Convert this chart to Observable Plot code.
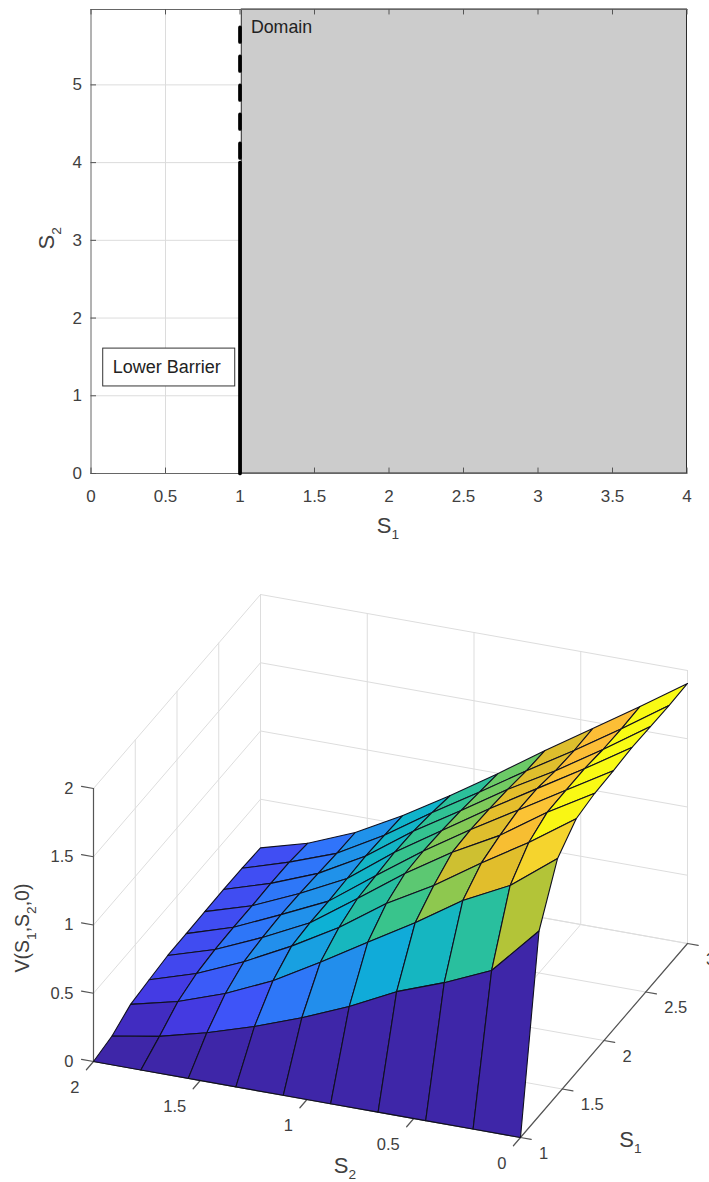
<!DOCTYPE html>
<html><head><meta charset="utf-8">
<style>html,body{margin:0;padding:0;background:#fff;overflow:hidden}svg{display:block}</style>
<script src="https://cdn.jsdelivr.net/npm/d3@7"></script>
<script src="https://cdn.jsdelivr.net/npm/@observablehq/plot@0.6"></script>
</head><body><div id="top"></div><div id="bottom"></div>
<script>
// ---------- 2D domain chart data ----------
const s1Ticks = [0,0.5,1,1.5,2,2.5,3,3.5,4];
const s2Ticks = [0,1,2,3,4,5];
const barrierS1 = 1;
const barrierSolid = [0,4];
const barrierDashed = [5.74,4];

// ---------- 3D surface data ----------
const S1Grid = [1,1.222,1.444,1.667,1.889,2.111,2.333,2.556,2.778,3];
const S2Grid = [0,0.222,0.444,0.667,0.889,1.111,1.333,1.556,1.778,2];
// V(S1,S2,0): one list per S1 grid value, ordered along S2Grid
const V0 = [0,0,0,0,0,0,0,0,0,0];
const V1 = [1.355,1.004,0.853,0.725,0.554,0.410,0.284,0.176,0.088,0.029];
const V2 = [1.729,1.469,1.297,1.072,0.867,0.659,0.462,0.306,0.186,0.103];
const V3 = [1.861,1.626,1.414,1.187,0.993,0.755,0.557,0.381,0.233,0.125];
const V4 = [1.890,1.690,1.458,1.273,1.055,0.810,0.571,0.401,0.251,0.145];
const V5 = [1.897,1.692,1.487,1.282,1.062,0.821,0.571,0.410,0.256,0.147];
const V6 = [1.909,1.692,1.485,1.275,1.055,0.833,0.579,0.407,0.256,0.151];
const V7 = [1.905,1.675,1.458,1.260,1.040,0.828,0.586,0.396,0.261,0.154];
const V8 = [1.901,1.670,1.448,1.238,1.018,0.806,0.579,0.385,0.259,0.152];
const V9 = [1.905,1.675,1.451,1.229,0.996,0.775,0.567,0.380,0.240,0.144];
const V = [V0,V1,V2,V3,V4,V5,V6,V7,V8,V9];
const s1Ticks3 = [1,1.5,2,2.5,3];
const s2Ticks3 = [0,0.5,1,1.5,2];
const zTicks3 = [0,0.5,1,1.5,2];

// parula colour map
const cmT = [0,0.05,0.1,0.15,0.2,0.3,0.4,0.5,0.55,0.66,0.7,0.76,0.8,0.88,0.905,0.97,1];
const cmC = ["rgb(62,38,168)","rgb(65,45,195)","rgb(68,60,230)","rgb(62,85,248)","rgb(48,115,250)","rgb(33,145,235)","rgb(12,178,212)","rgb(32,187,172)","rgb(50,195,145)","rgb(115,203,98)","rgb(171,197,58)","rgb(222,190,45)","rgb(236,190,42)","rgb(253,190,55)","rgb(245,212,45)","rgb(249,245,20)","rgb(249,251,20)"];

const INK = "#404040", FONT = "Liberation Sans, Arial, sans-serif";

// turn "S_1" text into real text with a lowered subscript
function subscripts(svg){
  svg.querySelectorAll("text").forEach(t=>{
    const host = t.querySelector("tspan") || t;
    if(!/_\d/.test(host.textContent)) return;
    const parts = host.textContent.split(/_(\d)/);
    const fs = parseFloat(t.getAttribute("font-size")) || 19;
    host.textContent = "";
    parts.forEach((p,i)=>{
      if(p==="") return;
      const sp = document.createElementNS("http://www.w3.org/2000/svg","tspan");
      sp.textContent = p;
      if(i%2){ sp.setAttribute("font-size",fs*0.72); sp.setAttribute("dy",fs*0.36); }
      else if(i>0){ sp.setAttribute("dy",-fs*0.36); }
      host.appendChild(sp);
    });
  });
  return svg;
}

// ---------- top chart ----------
const top2d = Plot.plot({
  width:709, height:560,
  marginLeft:90.5, marginRight:22.5, marginTop:9, marginBottom:87,
  x:{domain:[0,4],axis:null}, y:{domain:[0,5.97],axis:null},
  style:{fontFamily:FONT,color:INK,background:"#fff"},
  marks:[
    Plot.ruleX(s1Ticks.slice(1,2),{stroke:"#dcdcdc",strokeWidth:1}),
    Plot.ruleY(s2Ticks.slice(1),{stroke:"#dcdcdc",strokeWidth:1}),
    Plot.rect([0],{x1:1.012,x2:4,y1:0,y2:5.97,fill:"#cccccc",stroke:"#2a2a2a",strokeWidth:1}),
    Plot.frame({stroke:"#666",strokeWidth:1,anchor:"left"}),
    Plot.frame({stroke:"#666",strokeWidth:1,anchor:"bottom"}),
    Plot.frame({stroke:"#666",strokeWidth:1,anchor:"top"}),
    Plot.ruleX(s1Ticks,{y1:0,y2:0.07,stroke:"#555",strokeWidth:1}),
    Plot.ruleX(s1Ticks,{y1:5.9,y2:5.97,stroke:"#555",strokeWidth:1}),
    Plot.ruleY(s2Ticks,{x1:0,x2:0.037,stroke:"#555",strokeWidth:1}),
    Plot.line(barrierSolid,{x:()=>barrierS1,y:d=>d,stroke:"#000",strokeWidth:3.7}),
    Plot.line(barrierDashed,{x:()=>barrierS1,y:d=>d,stroke:"#000",strokeWidth:3.7,strokeDasharray:"14.5,14.5"}),
    Plot.rect([0],{x1:0.082,x2:0.968,y1:1.12,y2:1.607,fill:"#fff",stroke:"#333",strokeWidth:1}),
    Plot.text(["Lower Barrier"],{x:0.509,y:1.363,text:d=>d,fontSize:18,fill:"#222"}),
    Plot.text(["Domain"],{x:1.073,y:5.74,text:d=>d,textAnchor:"start",fontSize:17.8,fill:"#222"}),
    Plot.text(s1Ticks,{x:d=>d,y:0,text:d=>String(d),dy:23,fontSize:17,fill:INK}),
    Plot.text(s2Ticks,{x:0,y:d=>d,text:d=>String(d),textAnchor:"end",dx:-9,fontSize:17,fill:INK}),
    Plot.text(["S_1"],{x:2,y:0,text:d=>d,dy:52,dx:-1,fontSize:22,fill:INK}),
    Plot.text(["S_2"],{x:0,y:3,text:d=>d,dx:-44,dy:-2,rotate:-90,fontSize:22,fill:INK})
  ]
});
document.getElementById("top").appendChild(subscripts(top2d));

// ---------- bottom chart: orthographic view of (S1,S2,V) ----------
const px = (s1,s2,z)=>520+(s1-1)*83.5-s2*213.5;
const py = (s1,s2,z)=>1137-(s1-1)*97-s2*38-z*136.5;
const P = (s1,s2,z,id,extra)=>({id,x:px(s1,s2,z),y:py(s1,s2,z),...extra});

const faces = [];
for(let k=S1Grid.length-2;k>=0;k--){
  for(let j=S2Grid.length-2;j>=0;j--){
    const id=`${k}-${j}`, v=V[k][j];
    [[k,j],[k+1,j],[k+1,j+1],[k,j+1]].forEach(([a,b])=>
      faces.push(P(S1Grid[a],S2Grid[b],V[a][b],id,{v})));
  }
}
const grid=[];
const addLine=(a,b,i)=>{grid.push(P(a[0],a[1],a[2],i),P(b[0],b[1],b[2],i));};
let gi=0;
s2Ticks3.forEach(s=>{addLine([3,s,0],[3,s,2],gi++);addLine([1,s,0],[3,s,0],gi++);});
s1Ticks3.forEach(s=>{addLine([s,2,0],[s,2,2],gi++);addLine([s,2,0],[s,0,0],gi++);});
zTicks3.forEach(z=>{addLine([3,2,z],[3,0,z],gi++);addLine([1,2,z],[3,2,z],gi++);});

const axes=[]; let ai=0;
const addAxis=(a,b)=>{axes.push(P(a[0],a[1],a[2],ai),P(b[0],b[1],b[2],ai));ai++;};
addAxis([1,2,0],[1,2,2]);
addAxis([1,2,0],[1,0,0]);
addAxis([1,0,0],[3,0,0]);
zTicks3.forEach(z=>addAxis([1,2,z],[1,2.056,z]));
s2Ticks3.forEach(s=>addAxis([1,s,0],[0.915,s,0]));
s1Ticks3.forEach(s=>addAxis([s,0,0],[s,-0.05,0]));

const TX=d=>d.x, TY=d=>d.y, TT=d=>d.t;
const bottom3d = Plot.plot({
  width:709, height:622, margin:0,
  x:{domain:[0,709],range:[0,709],axis:null},
  y:{domain:[560,1182],range:[0,622],axis:null},
  color:{type:"linear",domain:cmT.map(t=>t*1.909),range:cmC,clamp:true},
  style:{fontFamily:FONT,color:INK,background:"#fff"},
  marks:[
    Plot.line(grid,{x:"x",y:"y",z:"id",stroke:"#dddddd",strokeWidth:1}),
    Plot.line(axes,{x:"x",y:"y",z:"id",stroke:"#555",strokeWidth:1.2}),
    Plot.line(faces,{x:"x",y:"y",z:"id",fill:"v",stroke:"#101020",strokeWidth:1.1,curve:"linear-closed"}),
    Plot.text(zTicks3.map(z=>({x:px(1,2,z),y:py(1,2,z),t:String(z)})),{x:TX,y:TY,text:TT,textAnchor:"end",dx:-20,fontSize:16.5,fill:INK}),
    Plot.text(s2Ticks3.map(s=>({x:px(1,s,0),y:py(1,s,0),t:String(s)})),{x:TX,y:TY,text:TT,textAnchor:"end",dx:-14,dy:26.5,fontSize:16.5,fill:INK}),
    Plot.text(s1Ticks3.map(s=>({x:px(s,0,0),y:py(s,0,0),t:String(s)})),{x:TX,y:TY,text:TT,textAnchor:"start",dx:18.5,dy:16,fontSize:16.5,fill:INK}),
    Plot.text(["S_2"],{x:()=>px(1,1,0),y:()=>py(1,1,0),text:d=>d,dx:38,dy:66,fontSize:22,fill:INK}),
    Plot.text(["S_1"],{x:()=>px(1,0,0),y:()=>py(1,0,0),text:d=>d,dx:110,dy:2,fontSize:22,fill:INK}),
    Plot.text(["V(S_1,S_2,0)"],{x:()=>px(1,2,1),y:()=>py(1,2,1),text:d=>d,dx:-71,dy:3,rotate:-90,fontSize:19.5,fill:INK})
  ]
});
document.getElementById("bottom").appendChild(subscripts(bottom3d));
</script></body></html>
